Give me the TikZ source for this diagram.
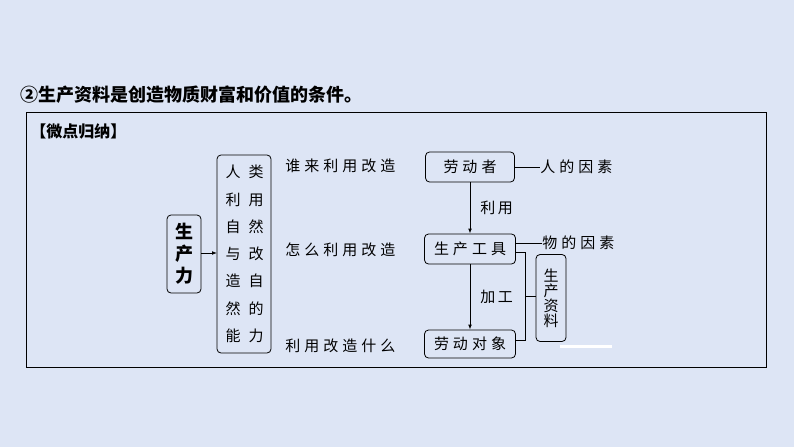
\documentclass[tikz,border=0pt]{standalone}
\usepackage{fontspec}
\setmainfont{Noto Sans CJK SC}
\usepackage{tikz}
\usetikzlibrary{arrows.meta}
\definecolor{bgblue}{HTML}{DDE5F5}
\tikzset{
  rbox/.style={draw, rounded corners=4pt, line width=0.8pt, inner sep=2pt},
  lbl/.style={font=\fontsize{15}{15}\selectfont, inner sep=0pt},
  vtext/.style={lbl, align=center}
}
\newcommand{\gp}{\hspace{4pt}}
\begin{document}
\begin{tikzpicture}[x=1pt,y=-1pt,line width=0.8pt]
    \fill[bgblue] (0,0) rectangle (794,447);
    \useasboundingbox (0,0) rectangle (794,447);
    \node[anchor=west, font=\fontsize{18}{18}\selectfont\bfseries, inner sep=0pt] (title) at (20,95) {②生产资料是创造物质财富和价值的条件。};
    \draw[line width=0.6pt] (26,112) rectangle (766,367);
    \node[anchor=west, font=\fontsize{16}{16}\selectfont\bfseries, inner sep=0pt] (wd) at (30,131) {【微点归纳】};

    \draw[rbox] (167,215) rectangle (201,293);
    \node[vtext, font=\fontsize{18}{22}\selectfont\bfseries] (scl) at (184,254) {生\\产\\力};
    \draw[rbox] (217,155) rectangle (271,353);
    \coordinate (big) at (217,253);
    \node[vtext, font=\fontsize{15}{27.3}\selectfont] (c1) at (233,254) {人\\利\\自\\与\\造\\然\\能};
    \node[vtext, font=\fontsize{15}{27.3}\selectfont] (c2) at (256,254) {类\\用\\然\\改\\自\\的\\力};
    \draw[-{Latex[length=5pt]}] (201,253) -- (big);

    \node[lbl, anchor=west] (q1) at (285,166) {谁\gp 来\gp 利\gp 用\gp 改\gp 造};
    \node[lbl, anchor=west] (q2) at (285,250) {怎\gp 么\gp 利\gp 用\gp 改\gp 造};
    \node[lbl, anchor=west] (q3) at (285,346) {利\gp 用\gp 改\gp 造\gp 什\gp 么};

    \node[rbox, lbl, minimum width=89, minimum height=30] (ldz) at (470,167) {劳\gp 动\gp 者};
    \node[rbox, lbl, minimum width=91, minimum height=30] (scgj) at (470,249) {生\gp 产\gp 工\gp 具};
    \node[rbox, lbl, minimum width=91, minimum height=28] (lddx) at (470,344) {劳\gp 动\gp 对\gp 象};
    \node[rbox, vtext, minimum width=30, minimum height=87] (sczl) at (551,298) {生\\产\\资\\料};

    \node[lbl, anchor=west] (rys) at (540,167) {人\gp 的\gp 因\gp 素};
    \node[lbl, anchor=west] (wys) at (542,243) {物\gp 的\gp 因\gp 素};
    \draw (ldz.east) -- (rys.west);
    \draw (scgj.east |- 0,243) -- (wys.west);

    \draw[-{Latex[length=5pt]}] (ldz) -- node[lbl, right=10pt] {利\,用} (scgj);
    \draw[-{Latex[length=5pt]}] (scgj) -- node[lbl, right=10pt] {加\,工} (lddx);

    \draw (scgj.east |- 0,252) -| (525,340) -- (lddx.east |- 0,340);
    \draw (525,296) -- (sczl.west |- 0,296);
    \draw[white, line width=3pt] (560,346) -- (612,346);
\end{tikzpicture}
\end{document}
